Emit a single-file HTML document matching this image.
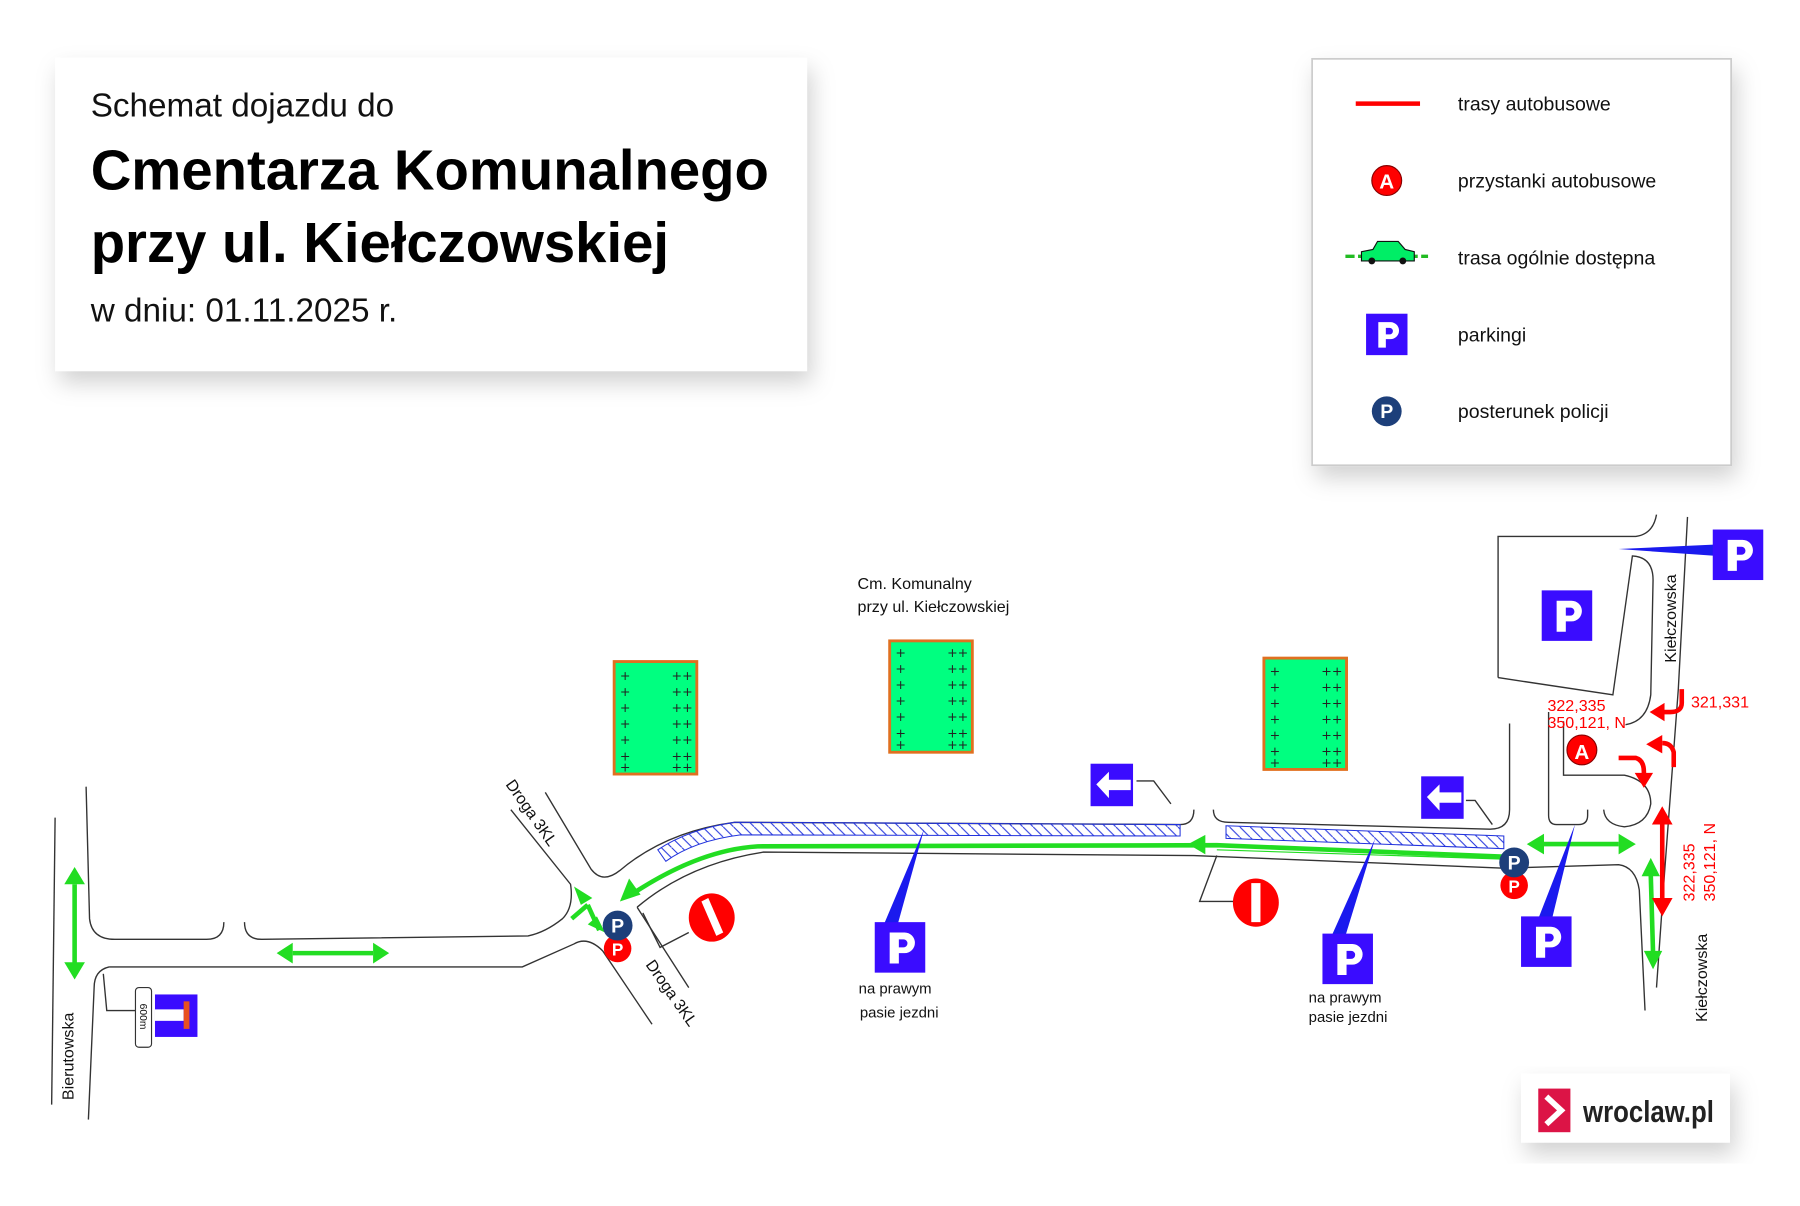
<!DOCTYPE html>
<html><head><meta charset="utf-8"><style>
html,body{margin:0;padding:0;background:#fff;}
svg{display:block}
</style></head><body>
<svg width="1800" height="1206" viewBox="0 0 1568 1050" xmlns="http://www.w3.org/2000/svg" font-family="Liberation Sans, DejaVu Sans, sans-serif">
<defs>
<filter id="sh" x="-10%" y="-10%" width="130%" height="140%"><feDropShadow dx="4" dy="10" stdDeviation="10" flood-color="#000" flood-opacity="0.18"/></filter>
<pattern id="hat" width="9" height="9" patternUnits="userSpaceOnUse"><path d="M0,0 L9,9" stroke="#2233dd" stroke-width="0.9"/></pattern>
<g id="P"><rect width="44" height="44" fill="#3a0cff"/><path d="M13,36 V9 H26 a9,9 0 0 1 0,18 H21 V36 Z M21,15 V22 H25 a3.5,3.5 0 0 0 0,-7Z" fill="#fff" fill-rule="evenodd"/></g>
<g id="pol"><circle r="13" fill="#1d3f7a"/><text x="0" y="6" text-anchor="middle" font-size="17" font-weight="bold" fill="#fff">P</text></g>
</defs>

<!-- Title box -->
<rect x="48" y="50" width="655" height="273" fill="#fff" filter="url(#sh)"/>
<text x="79" y="101" font-size="29" fill="#111">Schemat dojazdu do</text>
<text x="79" y="165" font-size="49" font-weight="bold" fill="#000">Cmentarza Komunalnego</text>
<text x="79" y="228" font-size="49" font-weight="bold" fill="#000">przy ul. Kiełczowskiej</text>
<text x="79" y="280" font-size="29" fill="#111">w dniu: 01.11.2025 r.</text>

<!-- Legend -->
<rect x="1143" y="51" width="365" height="354" fill="#fff" stroke="#ccc" stroke-width="1.5" filter="url(#sh)"/>
<line x1="1181" y1="90" x2="1237" y2="90" stroke="#f00" stroke-width="4"/>
<text x="1270" y="96" font-size="17" fill="#111">trasy autobusowe</text>
<circle cx="1208" cy="157" r="13" fill="#f00" stroke="#800" stroke-width="1"/>
<text x="1208" y="164" text-anchor="middle" font-size="18" font-weight="bold" fill="#fff">A</text>
<text x="1270" y="163" font-size="17" fill="#111">przystanki autobusowe</text>
<line x1="1172" y1="223" x2="1244" y2="223" stroke="#22bb22" stroke-width="3" stroke-dasharray="8,3"/>
<path d="M1186,227 L1186,219 L1196,217 L1200,210 L1218,210 L1224,217 L1232,219 L1232,227Z" fill="#00ee66" stroke="#111" stroke-width="1"/>
<circle cx="1195" cy="227" r="3" fill="#111"/><circle cx="1222" cy="227" r="3" fill="#111"/>
<text x="1270" y="230" font-size="17" fill="#111">trasa ogólnie dostępna</text>
<g transform="translate(1190,273) scale(0.82)"><use href="#P"/></g>
<text x="1270" y="297" font-size="17" fill="#111">parkingi</text>
<use href="#pol" x="1208" y="358"/>
<text x="1270" y="364" font-size="17" fill="#111">posterunek policji</text>

<!-- Logo -->
<rect x="1325" y="935" width="182" height="60" fill="#fff" filter="url(#sh)"/>
<rect x="1340" y="948" width="28" height="38" fill="#dc1446"/>
<path d="M1347,955 L1360,967 L1347,979" stroke="#fff" stroke-width="5" fill="none"/>
<text x="1379" y="977" font-size="27" font-weight="bold" fill="#222" textLength="114" lengthAdjust="spacingAndGlyphs">wroclaw.pl</text>

<!-- Roads -->
<g fill="none" stroke="#333" stroke-width="1.2">
<path d="M48,712 L45,962"/>
<path d="M75,685 L78,800 Q80,818 100,818 L180,818 Q195,818 195,803"/>
<path d="M213,803 Q213,818 228,818 L460,815 Q475,812 490,800 Q500,790 497,770 L445,705"/>
<path d="M475,690 L515,757 Q525,770 540,758 Q580,724 640,716 L1028,718 Q1040,718 1040,705"/>
<path d="M95,842 Q82,845 82,860 L77,975"/>
<path d="M95,842 L455,842 L500,822 Q512,815 525,828 L568,892"/>
<path d="M555,790 L600,860"/>
<path d="M555,790 Q600,752 665,742 L1040,745 L1310,756 L1410,753 Q1425,755 1428,775 L1433,880"/>
<path d="M1057,705 Q1057,716 1070,716 L1298,722 Q1315,722 1315,705 L1315,630"/>
<path d="M1349,620 L1349,710 Q1349,718 1356,718 L1375,718 Q1383,718 1383,710 L1383,705"/>
<path d="M1362,628 L1362,675 L1415,675 Q1438,680 1438,700 Q1435,718 1415,720 Q1398,718 1397,705"/>
<path d="M1305,590 L1305,467 L1425,467 Q1440,465 1443,448"/>
<path d="M1305,590 L1405,605 L1422,484 Q1440,485 1440,505 L1438,605 Q1435,628 1416,631"/>
<path d="M1470,450 L1462,600 L1450,760 L1443,860"/>
<path d="M1020,700 L1005,680 L990,680"/>
<path d="M1300,718 L1285,697 L1277,697"/>
<path d="M1060,745 L1045,785 L1075,785"/>
<path d="M560,795 L575,825 L600,812"/>
<path d="M90,848 L93,880 L118,880"/>
</g>

<!-- hatch strips -->
<path d="M573,740 Q600,722 640,716 L1028,718 L1028,728 L645,727 Q605,732 580,750 Z" fill="url(#hat)" stroke="#2233dd" stroke-width="0.9"/>
<path d="M1068,719 L1310,728 L1310,739 L1068,730 Z" fill="url(#hat)" stroke="#2233dd" stroke-width="0.9"/>

<!-- green route -->
<path d="M1310,746 L1060,736 L660,737 Q610,740 553,777" fill="none" stroke="#22dd22" stroke-width="4"/>
<path d="M1308,748 L1060,740" stroke="#22dd22" stroke-width="1"/>
<path d="M540,785 L548,765 L558,779 Z" fill="#22dd22"/>
<path d="M1035,735 L1050,727 L1050,744 Z" fill="#22dd22"/>

<!-- green double arrows -->
<g stroke="#22dd22" stroke-width="4" fill="#22dd22">
<line x1="65" y1="770" x2="65" y2="840"/><path d="M56,770 L65,755 L74,770Z M56,838 L65,853 L74,838Z" stroke="none"/>
<line x1="255" y1="830" x2="325" y2="830"/><path d="M255,821 L241,830 L255,839Z M325,821 L339,830 L325,839Z" stroke="none"/>
<line x1="1345" y1="735" x2="1410" y2="735"/><path d="M1345,726 L1330,735 L1345,744Z M1410,726 L1425,735 L1410,744Z" stroke="none"/>
<line x1="1438" y1="762" x2="1440" y2="830"/><path d="M1430,763 L1438,747 L1446,763Z M1432,828 L1440,844 L1448,828Z" stroke="none"/>
<path d="M522,810 L512,788 M512,788 L498,800" fill="none"/><path d="M506,788 L500,772 L516,782Z M512,805 L527,812 L520,798Z" stroke="none"/>
</g>

<!-- red bus arrows -->
<g fill="#f00" stroke="#f00">
<line x1="1448" y1="718" x2="1448" y2="782" stroke-width="4"/><path d="M1439,718 L1448,702 L1457,718Z M1439,782 L1448,798 L1457,782Z" stroke="none"/>
<path d="M1465,600 L1465,612 Q1465,620 1455,620 L1448,620" fill="none" stroke-width="4"/><path d="M1450,612 L1437,620 L1450,628Z" stroke="none"/>
<path d="M1458,668 L1458,655 Q1456,647 1448,647" fill="none" stroke-width="4"/><path d="M1448,640 L1434,648 L1448,656Z" stroke="none"/>
<path d="M1410,660 L1425,660 Q1432,662 1432,672 L1432,675" fill="none" stroke-width="4"/><path d="M1424,673 L1432,686 L1440,673Z" stroke="none"/>
</g>
<circle cx="1378" cy="653" r="13" fill="#f00" stroke="#800"/>
<text x="1378" y="661" text-anchor="middle" font-size="18" font-weight="bold" fill="#fff">A</text>
<g font-size="14" fill="#f00">
<text x="1348" y="619">322,335</text>
<text x="1348" y="634">350,121, N</text>
<text x="1473" y="616">321,331</text>
<text transform="translate(1476,785) rotate(-90)">322,335</text>
<text transform="translate(1494,785) rotate(-90)">350,121, N</text>
</g>

<!-- cemetery blocks -->
<g stroke="#e07020" stroke-width="2.5" fill="#00ff80">
<rect x="535" y="576" width="72" height="98"/>
<rect x="775" y="558" width="72" height="97"/>
<rect x="1101" y="573" width="72" height="97"/>
</g>
<g font-size="11" fill="#222" font-family="DejaVu Sans, sans-serif">
<text x="540" y="592">+</text><text x="540" y="606">+</text><text x="540" y="620">+</text><text x="540" y="634">+</text><text x="540" y="648">+</text><text x="540" y="662">+</text><text x="540" y="672">+</text>
<text x="585" y="592">++</text><text x="585" y="606">++</text><text x="585" y="620">++</text><text x="585" y="634">++</text><text x="585" y="648">++</text><text x="585" y="662">++</text><text x="585" y="672">++</text>
<text x="780" y="572">+</text><text x="780" y="586">+</text><text x="780" y="600">+</text><text x="780" y="614">+</text><text x="780" y="628">+</text><text x="780" y="642">+</text><text x="780" y="652">+</text>
<text x="825" y="572">++</text><text x="825" y="586">++</text><text x="825" y="600">++</text><text x="825" y="614">++</text><text x="825" y="628">++</text><text x="825" y="642">++</text><text x="825" y="652">++</text>
<text x="1106" y="588">+</text><text x="1106" y="602">+</text><text x="1106" y="616">+</text><text x="1106" y="630">+</text><text x="1106" y="644">+</text><text x="1106" y="658">+</text><text x="1106" y="668">+</text>
<text x="1151" y="588">++</text><text x="1151" y="602">++</text><text x="1151" y="616">++</text><text x="1151" y="630">++</text><text x="1151" y="644">++</text><text x="1151" y="658">++</text><text x="1151" y="668">++</text>
</g>

<!-- P signs with pointers -->
<path d="M770,805 L782,805 L805,722 Z" fill="#1a1aee"/>
<use href="#P" x="762" y="803"/>
<path d="M1160,815 L1172,815 L1198,730 Z" fill="#1a1aee"/>
<use href="#P" x="1152" y="813"/>
<path d="M1340,800 L1352,800 L1372,718 Z" fill="#1a1aee"/>
<use href="#P" x="1325" y="798"/>
<path d="M1410,478 L1495,474 L1495,484 Z" fill="#1a1aee"/>
<use href="#P" x="1492" y="461"/>
<use href="#P" x="1343" y="514"/>

<!-- direction arrows signs -->
<rect x="950" y="665" width="37" height="37" fill="#3a0cff"/>
<path d="M955,683 L966,672 L966,679 L985,679 L985,688 L966,688 L966,695Z" fill="#fff"/>
<rect x="1238" y="676" width="37" height="37" fill="#3a0cff"/>
<path d="M1243,694 L1254,683 L1254,690 L1273,690 L1273,699 L1254,699 L1254,706Z" fill="#fff"/>

<!-- no entry signs -->
<g transform="translate(620,799)"><ellipse rx="20" ry="21" fill="#f00"/><path d="M-9,-14 L-3,-17 L10,13 L4,16Z" fill="#fff"/></g>
<g transform="translate(1094,786)"><ellipse rx="20" ry="21" fill="#f00"/><rect x="-4" y="-17" width="8" height="34" fill="#fff"/></g>

<!-- police points -->
<circle cx="538" cy="826" r="12" fill="#f00"/><text x="538" y="832" text-anchor="middle" font-size="15" font-weight="bold" fill="#fff">P</text>
<use href="#pol" x="538" y="806"/>
<circle cx="1319" cy="771" r="12" fill="#f00"/><text x="1319" y="777" text-anchor="middle" font-size="15" font-weight="bold" fill="#fff">P</text>
<use href="#pol" x="1319" y="751"/>

<!-- dead-end sign -->
<rect x="118" y="860" width="14" height="52" rx="3" fill="#fff" stroke="#333"/>
<text transform="translate(122,874) rotate(90)" font-size="9" fill="#111">600m</text>
<rect x="135" y="866" width="37" height="37" fill="#3a0cff"/>
<rect x="135" y="879" width="25" height="10" fill="#fff"/>
<rect x="160" y="872" width="5" height="24" fill="#e85020"/>

<!-- labels -->
<g font-size="14" fill="#111">
<text x="747" y="513">Cm. Komunalny</text>
<text x="747" y="533">przy ul. Kiełczowskiej</text>
<text x="748" y="865" font-size="13">na prawym</text>
<text x="749" y="886" font-size="13">pasie jezdni</text>
<text x="1140" y="873" font-size="13">na prawym</text>
<text x="1140" y="890" font-size="13">pasie jezdni</text>
<text transform="translate(64,958) rotate(-90)">Bierutowska</text>
<text transform="translate(440,683) rotate(55)">Droga 3KL</text>
<text transform="translate(562,840) rotate(55)">Droga 3KL</text>
<text transform="translate(1460,577) rotate(-90)">Kiełczowska</text>
<text transform="translate(1487,890) rotate(-90)">Kiełczowska</text>
</g>
</svg>
</body></html>
